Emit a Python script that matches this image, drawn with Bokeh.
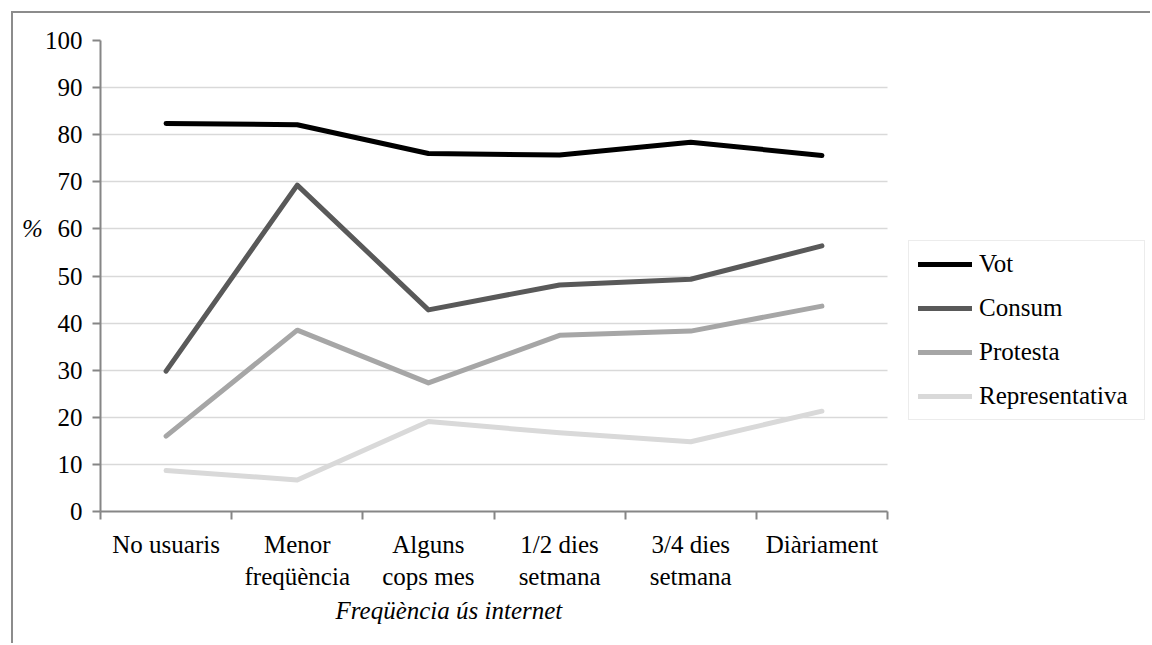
from bokeh.plotting import figure
from bokeh.models import (Range1d, FixedTicker, Legend, LegendItem, Label, Title)
from bokeh.embed import file_html
from bokeh.resources import INLINE

categories = ["No usuaris", "Menor\nfreqüència", "Alguns\ncops mes", "1/2 dies\nsetmana", "3/4 dies\nsetmana", "Diàriament"]
vot = [82.4, 82.1, 76.0, 75.7, 78.4, 75.6]
consum = [29.8, 69.3, 42.8, 48.1, 49.3, 56.4]
protesta = [16.0, 38.5, 27.3, 37.4, 38.3, 43.6]
representativa = [8.7, 6.7, 19.1, 16.7, 14.8, 21.3]
series_names = ["Vot", "Consum", "Protesta", "Representativa"]
series_colors = ["#000000", "#595959", "#a6a6a6", "#d9d9d9"]
y_ticks = [0, 10, 20, 30, 40, 50, 60, 70, 80, 90, 100]

FONT = "Liberation Serif"
FS = "25px"
N = len(categories)

# layout (pixels)
FIG_W, FIG_H = 1139, 632
BORDER_L, BORDER_T, BORDER_B = 87, 27, 134
AXIS_PX = 787                      # pixel width of the 6 category slots
FRAME_PX = FIG_W - BORDER_L        # frame extends to the right edge (legend lives inside)
x_end = N * FRAME_PX / AXIS_PX

xs = [i + 0.5 for i in range(N)]

p = figure(width=FIG_W, height=FIG_H, output_backend="svg", toolbar_location=None,
           x_range=Range1d(0, x_end), y_range=Range1d(0, 100),
           min_border_left=BORDER_L, min_border_right=0, min_border_top=BORDER_T,
           min_border_bottom=BORDER_B,
           styles={"margin-left": "11px", "margin-top": "11px",
                   "border-top": "2px solid #8c8c8c", "border-left": "2px solid #8c8c8c"})
p.outline_line_color = None
p.background_fill_color = "white"
p.border_fill_color = "white"

# grid
p.xgrid.grid_line_color = None
yg = p.ygrid[0]
yg.ticker = FixedTicker(ticks=y_ticks)
yg.grid_line_color = "#d9d9d9"
yg.grid_line_width = 1.5
if "cross_bounds" in yg.properties():
    yg.cross_bounds = (0, N)
else:
    yg.grid_line_color = None
    p.segment(x0=[0] * len(y_ticks), x1=[N] * len(y_ticks), y0=y_ticks, y1=y_ticks,
              line_color="#d9d9d9", line_width=1.5, level="underlay")

renderers = []
for name, data, col in zip(series_names, [vot, consum, protesta, representativa], series_colors):
    r = p.line(xs, data, line_color=col, line_width=5, line_cap="round", line_join="round")
    renderers.append(r)

# x axis
p.xaxis.bounds = (0, N)
p.xaxis.ticker = FixedTicker(ticks=xs, minor_ticks=list(range(N + 1)))
p.xaxis.major_label_overrides = {x: c for x, c in zip(xs, categories)}
p.xaxis.major_tick_line_color = None
p.xaxis.minor_tick_line_color = "#868686"
p.xaxis.minor_tick_line_width = 2
p.xaxis.minor_tick_out = 8
p.xaxis.minor_tick_in = 0
p.xaxis.axis_line_color = "#868686"
p.xaxis.axis_line_width = 2
p.xaxis.major_label_standoff = 11
p.xaxis.major_label_text_font = FONT
p.xaxis.major_label_text_font_size = FS
p.xaxis.major_label_text_color = "#000000"

# y axis
p.yaxis.ticker = FixedTicker(ticks=y_ticks)
p.yaxis.minor_tick_line_color = None
p.yaxis.major_tick_line_color = "#868686"
p.yaxis.major_tick_line_width = 2
p.yaxis.major_tick_out = 8
p.yaxis.major_tick_in = 0
p.yaxis.axis_line_color = "#868686"
p.yaxis.axis_line_width = 2
p.yaxis.major_label_standoff = 10
p.yaxis.major_label_text_font = FONT
p.yaxis.major_label_text_font_size = FS
p.yaxis.major_label_text_color = "#000000"

# axis titles
p.add_layout(Label(x=12, y=60, x_units="screen", y_units="data", text="%",
                   text_font=FONT, text_font_size=FS, text_font_style="italic",
                   text_color="#000000", text_align="center", text_baseline="middle"), "left")
p.add_layout(Title(text="Freqüència ús internet", align="left", offset=235,
                   text_font=FONT, text_font_size=FS, text_font_style="italic",
                   text_color="#000000", standoff=4), "below")

legend = Legend(items=[LegendItem(label=n, renderers=[r]) for n, r in zip(series_names, renderers)],
                location=(808, 91), orientation="vertical")
legend.label_text_font = FONT
legend.label_text_font_size = FS
legend.label_text_color = "#000000"
legend.glyph_width = 54
legend.glyph_height = 24
legend.label_height = 24
legend.label_standoff = 7
legend.label_width = 156
legend.spacing = 16
legend.padding = 9
legend.margin = 0
legend.border_line_color = "#d9d9d9"
legend.border_line_width = 1.5
legend.background_fill_color = "white"
p.add_layout(legend)

open("out.html", "w").write(file_html(p, INLINE))
